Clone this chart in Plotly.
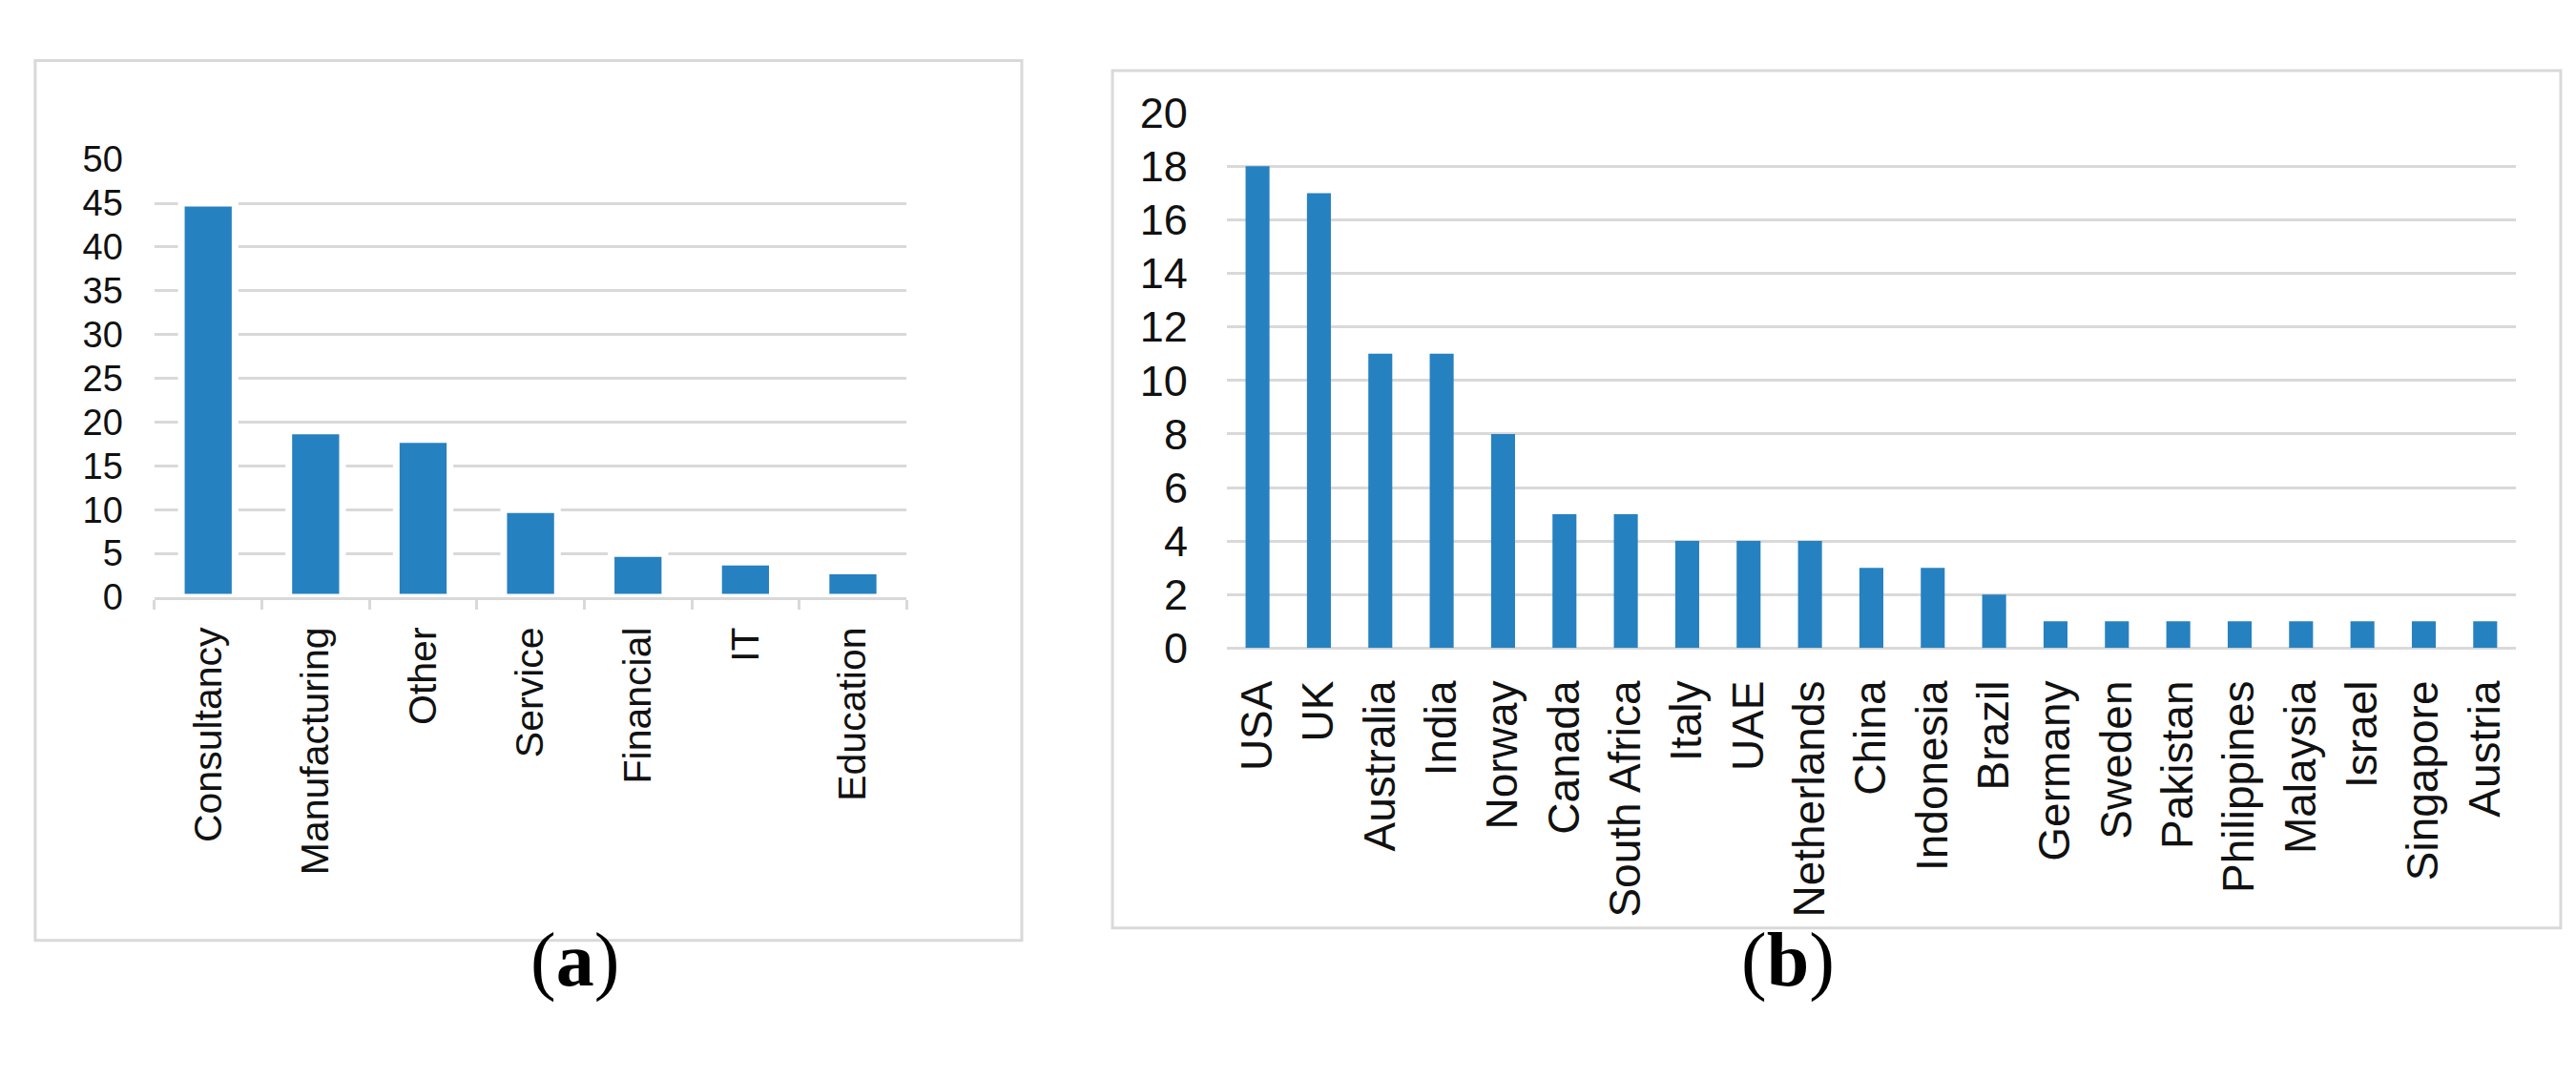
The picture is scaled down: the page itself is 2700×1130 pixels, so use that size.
import plotly.graph_objects as go

# Panel (a) data
sectors = ["Consultancy", "Manufacturing", "Other", "Service", "Financial", "IT", "Education"]
sector_counts = [45, 19, 18, 10, 5, 4, 3]
sector_ticks = [0, 5, 10, 15, 20, 25, 30, 35, 40, 45, 50]

# Panel (b) data
countries = ["USA", "UK", "Australia", "India", "Norway", "Canada", "South Africa", "Italy",
             "UAE", "Netherlands", "China", "Indonesia", "Brazil", "Germany", "Sweden",
             "Pakistan", "Philippines", "Malaysia", "Israel", "Singapore", "Austria"]
country_counts = [18, 17, 11, 11, 8, 5, 5, 4, 4, 4, 3, 3, 2, 1, 1, 1, 1, 1, 1, 1, 1]
country_ticks = [0, 2, 4, 6, 8, 10, 12, 14, 16, 18, 20]

BAR = "#2681c1"
GRID = "#d9d9d9"
TXT = "#111111"
FONT = "Liberation Sans"

fig = go.Figure()
fig.add_trace(go.Bar(x=sectors, y=sector_counts, width=0.5,
                     marker=dict(color=BAR, line=dict(color="white", width=7)),
                     xaxis="x", yaxis="y", showlegend=False))
fig.add_trace(go.Bar(x=countries, y=country_counts, width=0.39,
                     marker=dict(color=BAR, line=dict(width=0)),
                     xaxis="x2", yaxis="y2", showlegend=False))

fig.update_layout(
    width=2700, height=1130,
    margin=dict(l=0, r=0, t=0, b=0),
    paper_bgcolor="white", plot_bgcolor="white",
    font=dict(family=FONT, color=TXT),
    xaxis=dict(domain=[0.057, 0.349], anchor="y", tickangle=-90,
               tickfont=dict(size=41, family=FONT, color=TXT),
               showline=True, linecolor=GRID, linewidth=3,
               ticks="outside", tickson="boundaries", ticklen=10, tickcolor=GRID, tickwidth=3,
               ticklabelstandoff=12, showgrid=False),
    yaxis=dict(domain=[0.4504, 0.8757], anchor="x", range=[0, 50], tickvals=sector_ticks,
               tickfont=dict(size=38, family=FONT, color=TXT),
               showgrid=True, gridcolor=GRID, gridwidth=3, zeroline=False, showline=False,
               ticks="", ticklabelstandoff=32),
    xaxis2=dict(domain=[0.4733, 0.9737], anchor="y2", tickangle=-90,
                tickfont=dict(size=46, family=FONT, color=TXT),
                showline=False, ticks="", showgrid=False, ticklabelstandoff=24),
    yaxis2=dict(domain=[0.401, 0.921], anchor="x2", range=[0, 20], tickvals=country_ticks,
                tickfont=dict(size=45, family=FONT, color=TXT),
                showgrid=True, gridcolor=GRID, gridwidth=3, zeroline=True, zerolinecolor=GRID,
                zerolinewidth=3, showline=False, ticks="", ticklabelstandoff=40),
    shapes=[
        dict(type="rect", xref="paper", yref="paper", x0=0.0107, x1=0.3937, y0=0.117, y1=0.9717,
             line=dict(color=GRID, width=3), layer="below"),
        dict(type="rect", xref="paper", yref="paper", x0=0.4289, x1=0.9911, y0=0.129, y1=0.962,
             line=dict(color=GRID, width=3), layer="below"),
    ],
    annotations=[
        dict(text="(<b>a</b>)", x=0.2022, y=0.055, xref="paper", yref="paper", showarrow=False,
             font=dict(family="Liberation Serif", size=80, color="black")),
        dict(text="(<b>b</b>)", x=0.710, y=0.055, xref="paper", yref="paper", showarrow=False,
             font=dict(family="Liberation Serif", size=80, color="black")),
    ],
)

fig.write_html("out.html")
